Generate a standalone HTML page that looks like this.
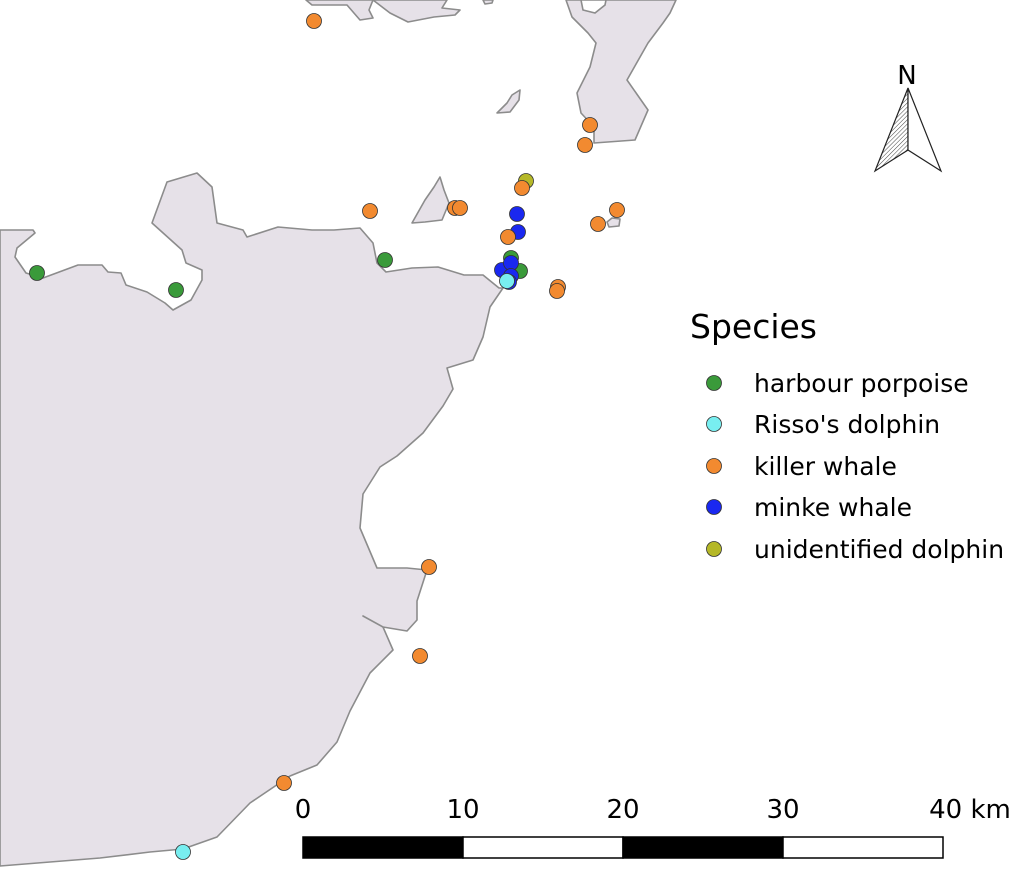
<!DOCTYPE html>
<html><head><meta charset="utf-8"><style>
html,body{margin:0;padding:0;background:#fff;}
svg{display:block;font-family:"DejaVu Sans","Liberation Sans",sans-serif;}
</style></head><body>
<svg width="1024" height="875" viewBox="0 0 1024 875" xmlns="http://www.w3.org/2000/svg">
<defs>
<pattern id="h" width="3" height="3" patternUnits="userSpaceOnUse" patternTransform="rotate(45)">
<line x1="0" y1="0" x2="0" y2="3" stroke="#444" stroke-width="1"/></pattern>
</defs>
<g fill="#e6e1e8" stroke="#8c8c8c" stroke-width="1.6" stroke-linejoin="round">
<path d="M0,230 L33,230 L35,233 L17,248 L15,257 L26,273 L43,278 L78,265 L102,265 L108,272 L121,273 L126,285 L147,292 L165,303 L173,310 L191,300 L202,280 L202,270 L186,263 L182,250 L152,223 L167,182 L197,173 L212,187 L217,223 L243,230 L247,237 L278,227 L312,230 L334,230 L360,228 L373,243 L377,263 L386,272 L412,268 L438,267 L464,275 L483,275 L499,288 L503,288 L490,307 L483,337 L473,360 L447,368 L453,389 L443,406 L423,433 L397,456 L380,467 L363,494 L360,528 L377,568 L407,568 L427,570 L417,601 L417,620 L407,631 L383,627 L363,616 L383,627 L393,650 L370,673 L350,711 L337,742 L317,765 L290,776 L250,803 L217,837 L183,849 L150,852 L100,858 L0,866 Z"/>
<path d="M306,0 L312,5 L347,5 L360,20 L373,18 L369,10 L373,0 L390,13 L408,22 L434,17 L455,15 L460,10 L442,8 L447,0 Z"/>
<path d="M483,0 L485,4 L492,3 L493,0 Z"/>
<path d="M566,0 L572,17 L588,33 L596,43 L590,67 L577,93 L581,113 L594,127 L594,143 L635,140 L648,110 L627,80 L648,43 L663,23 L670,13 L676,0 Z"/>
<path d="M497,113 L507,103 L512,95 L520,90 L519,100 L510,112 Z"/>
<path d="M412,223 L425,200 L434,187 L440,177 L444,190 L449,203 L442,220 L425,222 Z"/>
<path d="M607,222 L612,218 L620,219 L619,226 L609,227 Z"/>
</g>
<path d="M581,0 L583,10 L595,13 L605,5 L606,0 Z" fill="#fff" stroke="#8c8c8c" stroke-width="1.6"/>
<g stroke="#333" stroke-width="0.8">
<g fill="#f28a30">
<circle cx="314" cy="21" r="7.5"/><circle cx="590" cy="125" r="7.5"/><circle cx="585" cy="145" r="7.5"/>
<circle cx="370" cy="211" r="7.5"/><circle cx="455" cy="208" r="7.5"/><circle cx="460" cy="208" r="7.5"/>
<circle cx="617" cy="210" r="7.5"/><circle cx="598" cy="224" r="7.5"/>
<circle cx="558" cy="287" r="7.5"/><circle cx="557" cy="291" r="7.5"/><circle cx="429" cy="567" r="7.5"/>
<circle cx="420" cy="656" r="7.5"/><circle cx="284" cy="783" r="7.5"/>
</g>
<circle cx="526" cy="181" r="7.5" fill="#b5b828"/>
<circle cx="522" cy="188" r="7.5" fill="#f28a30"/>
<g fill="#3a9a3a"><circle cx="37" cy="273" r="7.5"/><circle cx="176" cy="290" r="7.5"/><circle cx="385" cy="260" r="7.5"/><circle cx="511" cy="258" r="7.5"/><circle cx="520" cy="271" r="7.5"/></g>
<g fill="#1a28f0"><circle cx="517" cy="214" r="7.5"/><circle cx="518" cy="232" r="7.5"/><circle cx="502" cy="270" r="7.5"/><circle cx="511" cy="263" r="7.5"/><circle cx="511" cy="276" r="7.5"/><circle cx="509" cy="282" r="7.5"/></g>
<circle cx="508" cy="237" r="7.5" fill="#f28a30"/>
<circle cx="507" cy="281" r="7.5" fill="#78eef0"/>
<circle cx="183" cy="852" r="7.5" fill="#78eef0"/>
</g>
<!-- north arrow -->
<text x="907" y="84" font-size="26" text-anchor="middle">N</text>
<path d="M908,88 L875,171 L908,150 Z" fill="url(#h)" stroke="#222" stroke-width="1.2"/>
<path d="M908,88 L941,171 L908,150 Z" fill="#fff" stroke="#222" stroke-width="1.2"/>
<!-- legend -->
<text x="690" y="338" font-size="33">Species</text>
<g stroke="#333" stroke-width="0.8">
<circle cx="714" cy="383" r="7.5" fill="#3a9a3a"/>
<circle cx="714" cy="424" r="7.5" fill="#78eef0"/>
<circle cx="714" cy="466" r="7.5" fill="#f28a30"/>
<circle cx="714" cy="507" r="7.5" fill="#1a28f0"/>
<circle cx="714" cy="549" r="7.5" fill="#b5b828"/>
</g>
<g font-size="25">
<text x="754" y="392">harbour porpoise</text>
<text x="754" y="433">Risso's dolphin</text>
<text x="754" y="475">killer whale</text>
<text x="754" y="516">minke whale</text>
<text x="754" y="558">unidentified dolphin</text>
</g>
<!-- scale bar -->
<g stroke="#000" stroke-width="1.5">
<rect x="303" y="837" width="160" height="21" fill="#000"/>
<rect x="463" y="837" width="160" height="21" fill="#fff"/>
<rect x="623" y="837" width="160" height="21" fill="#000"/>
<rect x="783" y="837" width="160" height="21" fill="#fff"/>
</g>
<g font-size="26" text-anchor="middle">
<text x="303" y="818">0</text>
<text x="463" y="818">10</text>
<text x="623" y="818">20</text>
<text x="783" y="818">30</text>
<text x="970" y="818">40 km</text>
</g>
</svg>
</body></html>
